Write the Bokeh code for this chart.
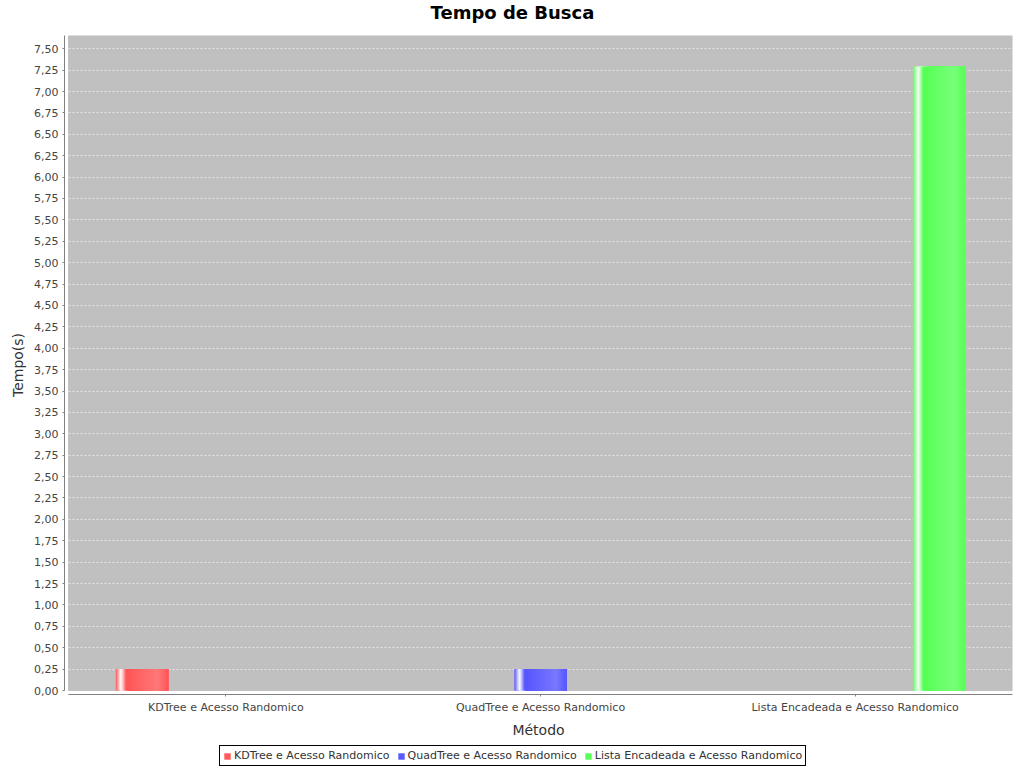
from bokeh.plotting import figure
from bokeh.layouts import column
from bokeh.models import (Range1d, FixedTicker, BoxAnnotation, Legend, LegendItem,
                          ColumnDataSource, Label)
from bokeh.embed import file_html
from bokeh.resources import INLINE

# ---- data ----
chart_title = "Tempo de Busca"
categories = ["KDTree e Acesso Randomico", "QuadTree e Acesso Randomico",
              "Lista Encadeada e Acesso Randomico"]
series_names = ["KDTree e Acesso Randomico", "QuadTree e Acesso Randomico",
                "Lista Encadeada e Acesso Randomico"]
series_values = [0.25, 0.25, 7.29]          # each series has a value in its own category
series_colors = ["#ff5555", "#5555ff", "#55ff55"]
y_ticks = [0.0, 0.25, 0.5, 0.75, 1.0, 1.25, 1.5, 1.75, 2.0, 2.25, 2.5, 2.75, 3.0, 3.25,
           3.5, 3.75, 4.0, 4.25, 4.5, 4.75, 5.0, 5.25, 5.5, 5.75, 6.0, 6.25, 6.5, 6.75,
           7.0, 7.25, 7.5]
y_tick_labels = ["0,00", "0,25", "0,50", "0,75", "1,00", "1,25", "1,50", "1,75", "2,00",
                 "2,25", "2,50", "2,75", "3,00", "3,25", "3,50", "3,75", "4,00", "4,25",
                 "4,50", "4,75", "5,00", "5,25", "5,50", "5,75", "6,00", "6,25", "6,50",
                 "6,75", "7,00", "7,25", "7,50"]

FONT = "DejaVu Sans"

# ---- layout constants ----
TITLE_H = 35
LEGEND_H = 26
MAIN_H = 768 - TITLE_H - LEGEND_H
FRAME_L, FRAME_R = 64, 1012
PX_PER_CAT = 944 / 3.0
y_max = max(series_values) * 1.05
PX_PER_Y = 655 / y_max
x_pad = 4 / PX_PER_CAT
y_pad = 4 / PX_PER_Y
bar_w = 52.5 / PX_PER_CAT
bar_step = (52.5 + 31.4) / PX_PER_CAT

# ---- title strip (frame is aligned with main plot frame by the column) ----
pt = figure(width=1024, height=TITLE_H, output_backend="svg", toolbar_location=None,
            x_range=Range1d(FRAME_L, FRAME_R), y_range=Range1d(0, TITLE_H),
            x_axis_location=None, y_axis_location=None, min_border=0)
pt.outline_line_color = None
pt.grid.visible = False
pt.add_layout(Label(x=512, y=TITLE_H - 12, text=chart_title, text_align="center",
                    text_baseline="alphabetic", text_font=FONT, text_font_size="18px",
                    text_font_style="bold", text_color="black"))

# ---- main plot ----
p = figure(width=1024, height=MAIN_H, output_backend="svg", toolbar_location=None,
           x_range=Range1d(-0.5 - x_pad, 2.5), y_range=Range1d(-y_pad, y_max),
           min_border_left=FRAME_L, min_border_right=1024 - FRAME_R, min_border_top=0,
           min_border_bottom=MAIN_H - 659)
p.outline_line_color = None
p.background_fill_color = "white"
p.border_fill_color = "white"

bg = BoxAnnotation(left=-0.5, right=2.5, bottom=0, top=y_max, fill_color="#c0c0c0",
                   fill_alpha=1, line_color="#808080", line_width=1, level="image")
p.add_layout(bg)

p.xgrid.visible = False
p.ygrid.ticker = FixedTicker(ticks=y_ticks[1:])
p.ygrid.grid_line_color = "white"
p.ygrid.grid_line_dash = "2 2"
p.ygrid.grid_line_width = 0.6


def hex2rgb(h):
    return tuple(int(h[i:i + 2], 16) for i in (1, 3, 5))


def brighter(c):
    return tuple(min(255, int(v / 0.7)) for v in c)


def lerp(a, b, t):
    return tuple(int(round(a[i] + (b[i] - a[i]) * t)) for i in range(3))


def grad(c0, c1, t):
    w = (255, 255, 255)
    if t < 0.1:
        return lerp(c0, w, t / 0.1)
    if t < 0.2:
        return lerp(w, c0, (t - 0.1) / 0.1)
    if t < 0.8:
        return lerp(c0, c1, (t - 0.2) / 0.6)
    return lerp(c1, c0, (t - 0.8) / 0.2)


N = 48
sources = []
for s, (name, val, col) in enumerate(zip(series_names, series_values, series_colors)):
    cat_idx = s
    center = cat_idx + (s - 1) * bar_step
    left = center - bar_w / 2
    right = center + bar_w / 2
    c0 = hex2rgb(col)
    c1 = brighter(c0)
    lefts, rights, tops, bottoms, fills = [], [], [], [], []
    for k in range(N):
        t = (k + 0.5) / N
        lefts.append(left + bar_w * k / N)
        rights.append(right)
        tops.append(val)
        bottoms.append(0)
        r, g, b = grad(c0, c1, t)
        fills.append("#%02x%02x%02x" % (r, g, b))
    src = ColumnDataSource(dict(left=lefts, right=rights, top=tops, bottom=bottoms, fill=fills))
    sources.append(src)
    p.quad(left="left", right="right", top="top", bottom="bottom", fill_color="fill",
           line_color=None, source=src)

xa = p.xaxis[0]
xa.ticker = FixedTicker(ticks=[0, 1, 2])
xa.major_label_overrides = {i: c for i, c in enumerate(categories)}
xa.bounds = (-0.5, 2.5)
xa.axis_label = "Método"
ya = p.yaxis[0]
ya.ticker = FixedTicker(ticks=y_ticks)
ya.major_label_overrides = {t: l for t, l in zip(y_ticks, y_tick_labels)}
ya.bounds = (0, y_max)
ya.axis_label = "Tempo(s)"
for ax in (xa, ya):
    ax.axis_line_color = "#808080"
    ax.major_tick_line_color = "#808080"
    ax.minor_tick_line_color = None
    ax.major_tick_out = 2
    ax.major_tick_in = 0
    ax.major_label_text_font = FONT
    ax.major_label_text_font_size = "11px"
    ax.major_label_text_color = "#444444"
    ax.axis_label_text_font = FONT
    ax.axis_label_text_font_size = "14px"
    ax.axis_label_text_font_style = "normal"
    ax.axis_label_text_color = "#333333"
    ax.major_label_standoff = 4
    ax.axis_label_standoff = 5

# ---- legend strip ----
pl = figure(width=1024, height=LEGEND_H, output_backend="svg", toolbar_location=None,
            x_range=Range1d(100, 101), y_range=Range1d(100, 101),
            x_axis_location=None, y_axis_location=None, min_border=0)
pl.outline_line_color = None
pl.grid.visible = False
items = []
for name, src in zip(series_names, sources):
    r = pl.quad(left="left", right="right", top="top", bottom="bottom", fill_color="fill",
                line_color=None, source=src, visible=False)
    items.append(LegendItem(label=name, renderers=[r], index=int(0.2 * N)))
legend = Legend(items=items, orientation="horizontal", location=(219 - FRAME_L, 2),
                border_line_color="black", border_line_width=1, border_line_alpha=1,
                label_text_font=FONT, label_text_font_size="11px", label_text_color="#333333",
                glyph_width=8, glyph_height=8, label_standoff=3, spacing=7, padding=3,
                margin=0, label_height=13, background_fill_color="white",
                click_policy="none")
pl.add_layout(legend, "center")

layout = column(pt, p, pl, spacing=0)
open("out.html", "w").write(file_html(layout, INLINE))
